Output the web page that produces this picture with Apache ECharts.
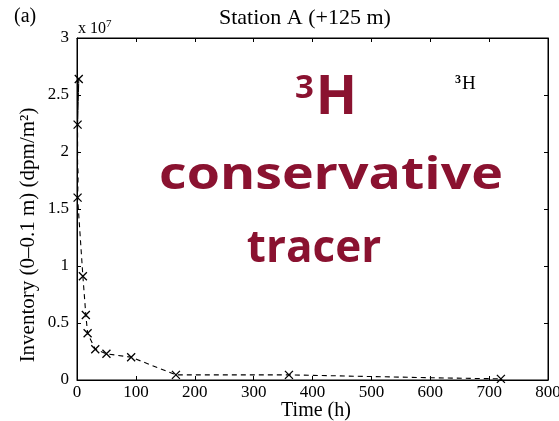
<!DOCTYPE html>
<html>
<head>
<meta charset="utf-8">
<script src="https://cdn.jsdelivr.net/npm/echarts@6/dist/echarts.min.js"></script>
<style>html,body{margin:0;padding:0;background:#fff}#c{width:559px;height:421px}</style>
</head>
<body>
<div id="c"></div>
<script>
// Data (time in hours, inventory in dpm/m^2)
var timeHours = [1, 3, 1, 1, 2, 1, 10, 15, 18, 31, 50, 92, 168, 360, 600, 720];
var inventory = [2.24e7, 2.64e7, 2.24e7, 1.9e7, 1.8e7, 1.6e7, 0.91e7, 0.57e7, 0.41e7, 0.27e7, 0.23e7, 0.20e7, 0.045e7, 0.045e7, 0.02e7, 0.01e7];
var markerShown = [true, true, false, false, false, true, true, true, true, true, true, true, true, true, false, true];
var xTicks = [0, 100, 200, 300, 400, 500, 600, 700, 800];
var yTicks = [0, 0.5, 1, 1.5, 2, 2.5, 3];
var yScale = 1e7;

var serif = '"Liberation Serif", "DejaVu Serif", serif';
var red = '#8a1230';

var pts = timeHours.map(function (t, i) {
  return {
    value: [t, inventory[i]],
    symbolSize: markerShown[i] ? 8 : 0
  };
});

var chart = echarts.init(document.getElementById('c'));
var axisCommon = {
  type: 'value',
  axisLine: { show: true, onZero: false, lineStyle: { color: '#000', width: 1 } },
  axisTick: { show: true, inside: true, length: 4, lineStyle: { color: '#000' } },
  splitLine: { show: false }
};
chart.setOption({
  animation: false,
  backgroundColor: '#fff',
  grid: { left: 77, right: 11, top: 38, bottom: 41, outerBoundsMode: 'none', containLabel: false,
          show: true, borderColor: '#000', borderWidth: 1, backgroundColor: 'transparent' },
  xAxis: [
    Object.assign({}, axisCommon, {
      min: xTicks[0], max: xTicks[xTicks.length - 1], interval: 100,
      position: 'bottom',
      axisLabel: { color: '#000', fontFamily: serif, fontSize: 17, margin: 4 }
    }),
    Object.assign({}, axisCommon, {
      min: xTicks[0], max: xTicks[xTicks.length - 1], interval: 100,
      position: 'top', axisLabel: { show: false }
    })
  ],
  yAxis: [
    Object.assign({}, axisCommon, {
      min: 0, max: 3e7, interval: 0.5e7,
      position: 'left',
      axisLabel: {
        color: '#000', fontFamily: serif, fontSize: 17, margin: 8,
        formatter: function (v) { return String(Math.round(v / yScale * 10) / 10); }
      }
    }),
    Object.assign({}, axisCommon, {
      min: 0, max: 3e7, interval: 0.5e7,
      position: 'right', axisLabel: { show: false }
    })
  ],
  series: [{
    type: 'line',
    data: pts,
    symbol: 'path://M0,0L10,10M10,0L0,10',
    itemStyle: { color: 'none', borderColor: '#000', borderWidth: 1.3 },
    lineStyle: { color: '#000', width: 1.1, type: [5, 4] },
    z: 3
  }, {
    type: 'line', xAxisIndex: 1, yAxisIndex: 1, data: [], silent: true
  }],
  graphic: [
    { type: 'text', left: 14, top: 7, style: { text: '(a)', font: '20px ' + serif, fill: '#000' } },
    { type: 'text', left: 219, top: 7, style: { text: 'Station A (+125 m)', font: '22px ' + serif, fill: '#000' } },
    { type: 'text', left: 78, top: 19, style: {
        text: 'x 10{s|7}', font: '16px ' + serif, fill: '#000',
        rich: { s: { fontSize: 11, fontFamily: serif, verticalAlign: 'top', padding: [0, 0, 9, 0] } }
      } },
    { type: 'text', x: 28, y: 235, rotation: Math.PI / 2, style: {
        text: 'Inventory (0\u20130.1 m) (dpm/m\u00B2)', font: '21px ' + serif, fill: '#000',
        textAlign: 'center', textVerticalAlign: 'middle'
      } },
    { type: 'text', x: 316, y: 411, style: {
        text: 'Time (h)', font: '20px ' + serif, fill: '#000',
        textAlign: 'center', textVerticalAlign: 'middle'
      } },
    { type: 'text', left: 455, top: 74, style: {
        text: '{s|3}H', font: '19px ' + serif, fill: '#000',
        rich: { s: { fontSize: 12, fontFamily: serif, fontWeight: 'bold', verticalAlign: 'top', padding: [0, 1, 9, 0] } }
      } },
    { type: 'text', left: 295, top: 72, style: {
        text: '{s|3}H', font: 'bold 54px "Open Sans", sans-serif', fill: red,
        rich: { s: { fontSize: 33, fontWeight: 'bold', fontFamily: '"Open Sans", sans-serif', fill: red, verticalAlign: 'top', padding: [0, 2, 21, 0] } }
      } },
    { type: 'text', x: 331, y: 198, scaleX: 1.22, style: {
        text: 'conservative', font: 'bold 44px "Open Sans", sans-serif', fill: red,
        textAlign: 'center', textVerticalAlign: 'bottom'
      } },
    { type: 'text', x: 314, y: 271, scaleX: 1.0, style: {
        text: 'tracer', font: 'bold 44px "Open Sans", sans-serif', fill: red,
        textAlign: 'center', textVerticalAlign: 'bottom'
      } }
  ]
});
</script>
</body>
</html>
